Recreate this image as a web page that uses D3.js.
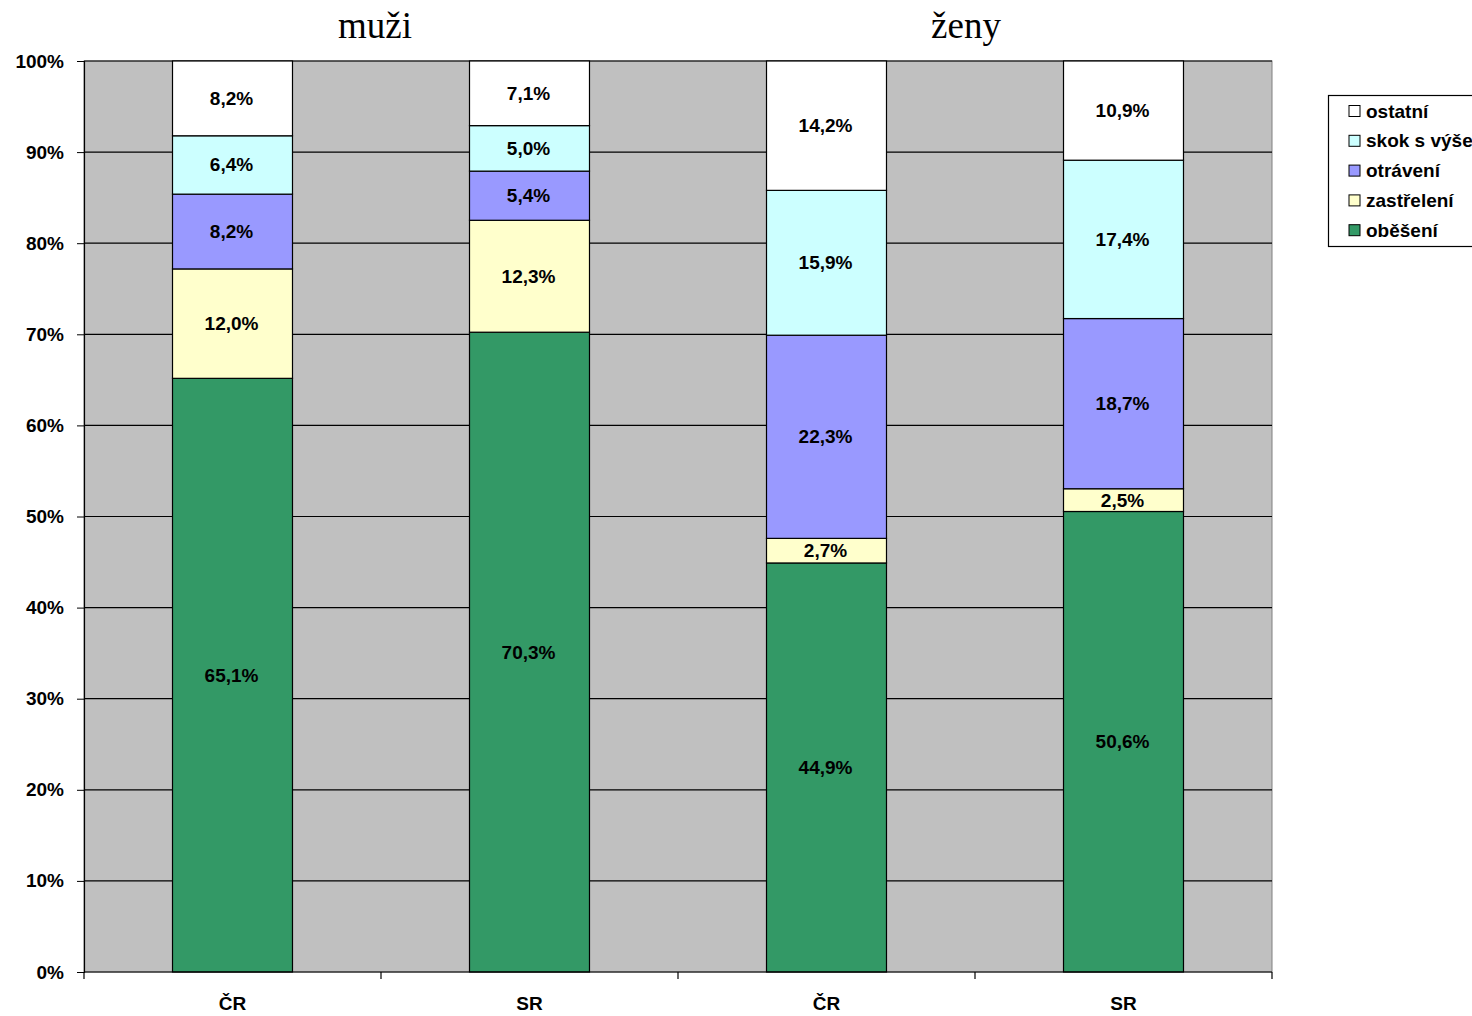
<!DOCTYPE html>
<html><head><meta charset="utf-8">
<script src="https://cdn.jsdelivr.net/npm/d3@7"></script>
<style>body{margin:0;background:#fff;}svg{display:block;}</style>
</head><body>
<svg id="c" width="1472" height="1016"></svg>
<script>
const categories = ["ČR","SR","ČR","SR"];
const groups = ["muži","ženy"];
const seriesNames = ["oběšení","zastřelení","otrávení","skok s výše","ostatní"];
const seriesColors = ["#339966","#FFFFCC","#9999FF","#CCFFFF","#FFFFFF"];
const obeseni   = [65.1, 70.3, 44.9, 50.6];
const zastreleni= [12.0, 12.3, 2.7, 2.5];
const otraveni  = [8.2, 5.4, 22.3, 18.7];
const skok      = [6.4, 5.0, 15.9, 17.4];
const ostatni   = [8.2, 7.1, 14.2, 10.9];
const yTicks = [0,10,20,30,40,50,60,70,80,90,100];

const series = [obeseni, zastreleni, otraveni, skok, ostatni];
const svg = d3.select("#c");
const L=84, R=1272, T=61, B=972;
const FS = 19;
const FF = "Liberation Sans, Arial, sans-serif";
const idx = categories.map((_,i)=>i);
const x = d3.scaleBand().domain(idx).range([L,R]).paddingInner(0.596).paddingOuter(0.298);
const xb = d3.scaleBand().domain(idx).range([L,R]);
const y = d3.scaleLinear().domain([0,100]).range([B,T]);

svg.append("rect").attr("x",L).attr("y",T).attr("width",R-L).attr("height",B-T).attr("fill","#C0C0C0").attr("stroke","#808080");
svg.append("g").selectAll("line").data(yTicks.filter(d=>d>0)).join("line")
  .attr("x1",L).attr("x2",R).attr("y1",d=>y(d)).attr("y2",d=>y(d)).attr("stroke","#000").attr("stroke-width",1.2);

// stacked bars
idx.forEach(i=>{
  const tot = d3.sum(series, s=>s[i]);
  let acc = 0;
  series.forEach((s,k)=>{
    const v0 = acc/tot*100, v1 = (acc+s[i])/tot*100;
    acc += s[i];
    svg.append("rect").attr("x",x(i)).attr("width",x.bandwidth())
      .attr("y",y(v1)).attr("height",y(v0)-y(v1))
      .attr("fill",seriesColors[k]).attr("stroke","#000").attr("stroke-width",1.2);
    svg.append("text").attr("x",x(i)+x.bandwidth()/2-1).attr("y",(y(v0)+y(v1))/2)
      .attr("text-anchor","middle").attr("dominant-baseline","central")
      .attr("font-family",FF).attr("font-weight","bold").attr("font-size",FS)
      .text(s[i].toFixed(1).replace(".",",")+"%");
  });
});

// axes
const ya = d3.axisLeft(y).tickValues(yTicks).tickFormat(d=>d+"%").tickSize(7).tickPadding(13);
const gy = svg.append("g").attr("transform",`translate(${L},0)`).call(ya);
gy.select(".domain").attr("stroke","#000").attr("stroke-width",1.2);
gy.selectAll("text").attr("font-family",FF).attr("font-weight","bold").attr("font-size",FS).attr("fill","#000");

const gx = svg.append("g");
gx.append("line").attr("x1",L).attr("x2",R).attr("y1",B).attr("y2",B).attr("stroke","#000").attr("stroke-width",1.2);
const bounds = idx.map(i=>xb(i)).concat([R]);
gx.selectAll("line.t").data(bounds).join("line").attr("class","t")
  .attr("x1",d=>d).attr("x2",d=>d).attr("y1",B).attr("y2",B+7).attr("stroke","#000").attr("stroke-width",1.2);
gx.selectAll("text").data(idx).join("text")
  .attr("x",i=>xb(i)+xb.bandwidth()/2).attr("y",1010).attr("text-anchor","middle")
  .attr("font-family",FF).attr("font-weight","bold").attr("font-size",FS)
  .text(i=>categories[i]);

// group titles
groups.forEach((g,j)=>{
  const cx = j===0 ? 375 : 966;
  svg.append("text").attr("x",cx).attr("y",38).attr("text-anchor","middle")
    .attr("font-family","Liberation Serif, Times New Roman, serif").attr("font-size",37).text(g);
});

// legend
const lg = svg.append("g");
lg.append("rect").attr("x",1328.5).attr("y",95.5).attr("width",150).attr("height",151).attr("fill","#fff").attr("stroke","#000").attr("stroke-width",1.2);
const order = [4,3,2,1,0];
order.forEach((k,j)=>{
  const yy = 111 + j*29.8;
  lg.append("rect").attr("x",1349).attr("y",yy-5.5).attr("width",11).attr("height",11).attr("fill",seriesColors[k]).attr("stroke","#000").attr("stroke-width",1);
  lg.append("text").attr("x",1366).attr("y",yy).attr("dominant-baseline","central")
    .attr("font-family",FF).attr("font-weight","bold").attr("font-size",FS).text(seriesNames[k]);
});
</script>
</body></html>
